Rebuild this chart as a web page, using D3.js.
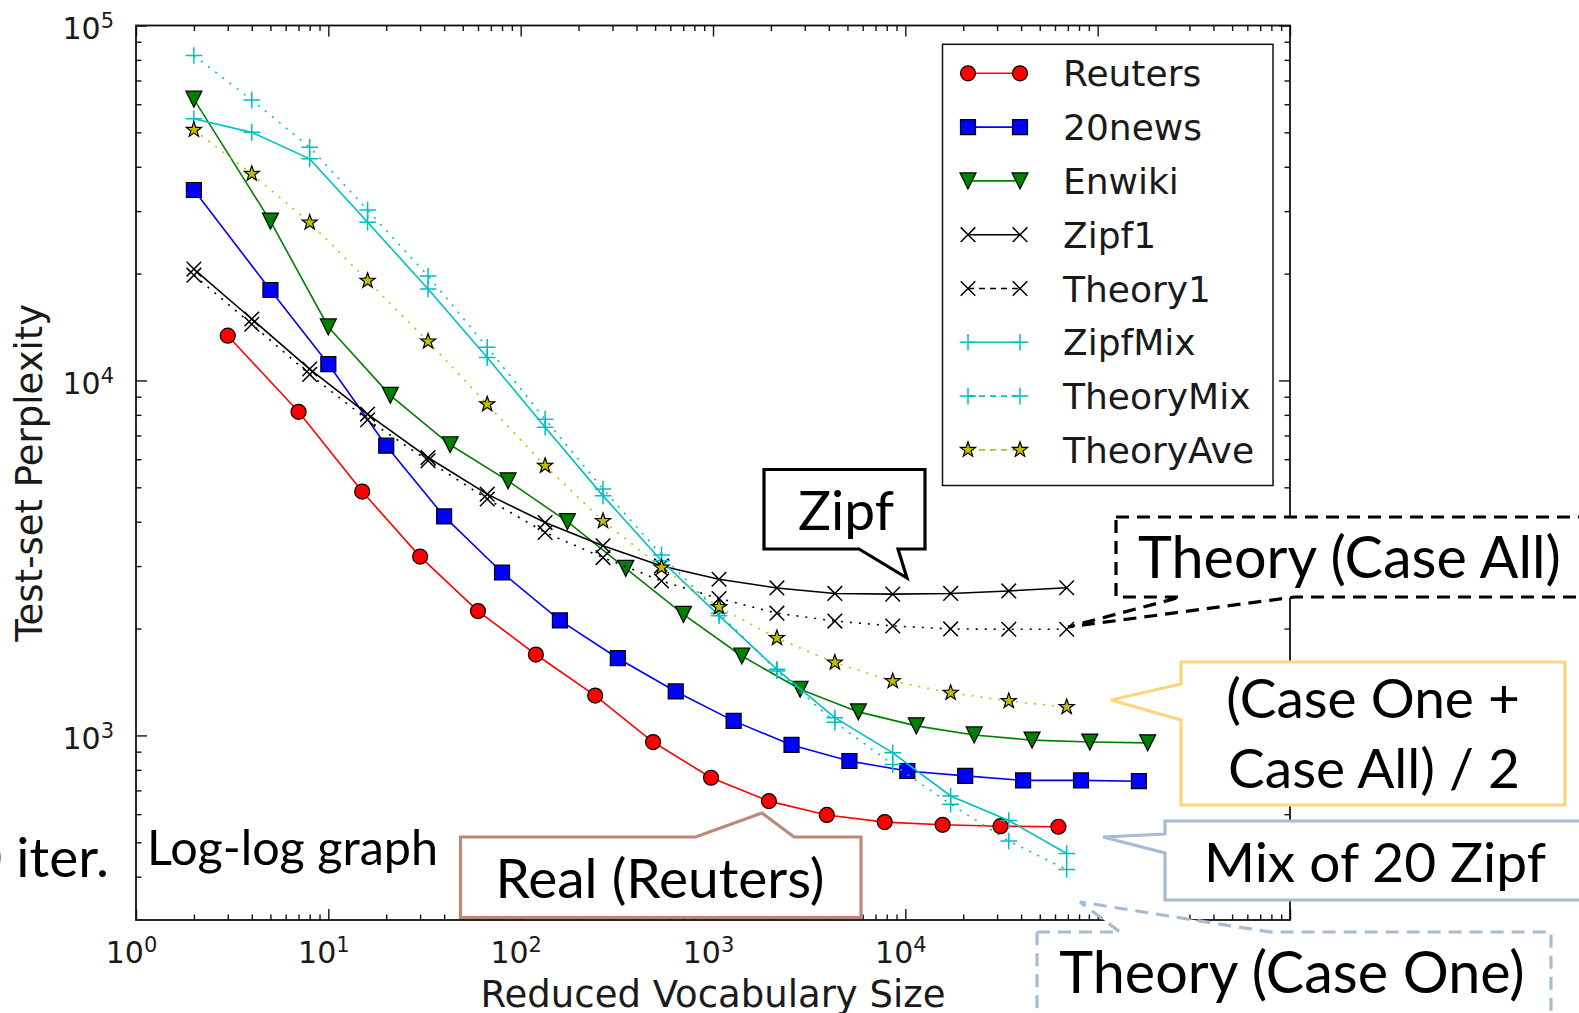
<!DOCTYPE html>
<html>

<head>
    <meta charset="utf-8">
    <title>Test-set Perplexity vs Reduced Vocabulary Size</title>
    <script src="https://d3js.org/d3.v7.min.js"></script>
    <style>
        body {
            margin: 0;
            background: #fff;
        }

        .tick-label {
            font-family: "DejaVu Sans", sans-serif;
            font-size: 30px;
            fill: #1a1a1a;
        }

        .axis-label {
            font-family: "DejaVu Sans", sans-serif;
            font-size: 37px;
            fill: #1a1a1a;
        }

        .legend-text {
            font-family: "DejaVu Sans", sans-serif;
            font-size: 36px;
            fill: #1a1a1a;
        }

        .note {
            font-family: Lato, sans-serif;
            fill: #000;
        }
    </style>
</head>

<body>
    <svg width="1579" height="1013"></svg>
    <script>
        // Data (x = reduced vocabulary size, y = perplexity)
        var reutersX = [3, 7, 15, 30, 60, 120, 244, 488, 977, 1953, 3906, 7812, 15625, 31250, 62500];
        var reutersY = [13370, 8160, 4865, 3190, 2240, 1690, 1295, 958, 760, 653, 597, 570, 560, 555, 553];

        var newsX = [2, 5, 10, 20, 40, 80, 160, 320, 640, 1280, 2560, 5120, 10240, 20480, 40960, 81920, 163840];
        var newsY = [34400, 17980, 11120, 6550, 4140, 2877, 2109, 1650, 1330, 1099, 940, 847, 794, 769, 747, 747, 743];

        var enwikiX = [2, 5, 10, 21, 43, 86, 175, 352, 702, 1412, 2838, 5700, 11400, 22800, 45600, 91000, 182000];
        var enwikiY = [62000, 28100, 14150, 9080, 6590, 5215, 4000, 2955, 2193, 1674, 1349, 1165, 1064, 1003, 970, 958, 953];

        // the Zipf / theory curves share one set of sizes
        var zipfX = [2, 4, 8, 16, 33, 67, 134, 268, 540, 1075, 2150, 4300, 8600, 17200, 34500, 69000];
        var zipf1Y = [20600, 14900, 10770, 8040, 6065, 4783, 3978, 3422, 3003, 2754, 2603, 2512, 2501, 2512, 2553, 2607];
        var theory1Y = [19800, 14400, 10400, 7750, 5940, 4636, 3730, 3170, 2723, 2430, 2210, 2100, 2034, 1995, 1991, 1991];
        var zipfMixY = [54600, 50000, 42100, 27900, 18100, 11600, 7380, 4730, 3105, 2175, 1535, 1122, 893, 675, 576, 465];
        var theoryMixY = [82300, 61700, 45400, 30200, 19700, 12400, 7780, 4945, 3225, 2210, 1520, 1090, 828, 640, 504, 419];
        var theoryAveY = [50800, 38200, 27850, 19100, 12880, 8570, 5750, 4020, 2970, 2300, 1880, 1604, 1422, 1318, 1250, 1202];

        var xMajor = [1, 10, 100, 1e3, 1e4, 1e5, 1e6];
        var xLabelled = [1, 10, 100, 1e3, 1e4];   // 10^5, 10^6 sit under the slide box
        var yMajor = [1e3, 1e4, 1e5];

        var series = [
            { name: "Reuters", xs: reutersX, ys: reutersY, color: "#ff0000", dotted: false, marker: "circle", fill: "#ff0000", edge: "#000" },
            { name: "20news", xs: newsX, ys: newsY, color: "#0000ff", dotted: false, marker: "square", fill: "#0000ff", edge: "#000" },
            { name: "Enwiki", xs: enwikiX, ys: enwikiY, color: "#008000", dotted: false, marker: "triangle", fill: "#008000", edge: "#000" },
            { name: "Zipf1", xs: zipfX, ys: zipf1Y, color: "#000", dotted: false, marker: "cross", fill: "none", edge: "#000" },
            { name: "Theory1", xs: zipfX, ys: theory1Y, color: "#000", dotted: true, marker: "cross", fill: "none", edge: "#000" },
            { name: "ZipfMix", xs: zipfX, ys: zipfMixY, color: "#00bfbf", dotted: false, marker: "plus", fill: "none", edge: "#00bfbf" },
            { name: "TheoryMix", xs: zipfX, ys: theoryMixY, color: "#00bfbf", dotted: true, marker: "plus", fill: "none", edge: "#00bfbf" },
            { name: "TheoryAve", xs: zipfX, ys: theoryAveY, color: "#bfbf00", dotted: true, marker: "star", fill: "#bfbf00", edge: "#000" }
        ];

        var svg = d3.select("svg");
        svg.append("rect").attr("width", 1579).attr("height", 1013).attr("fill", "#fff");

        // plot box (note: "top" is a reserved window property, so use other names)
        var plotL = 136, plotR = 1290, plotT = 25.5, plotB = 920;

        var x = d3.scaleLog().domain([1, 1e6]).range([plotL, plotR]);
        var y = d3.scaleLog().domain([302, 1e5]).range([plotB, plotT]);

        // Minor ticks come from the log scale's own tick list
        var xMinor = x.ticks().filter(d => xMajor.indexOf(d) < 0);
        var yMinor = y.ticks().filter(d => yMajor.indexOf(d) < 0);

        function starPath (r) {
            var pts = [];
            for (var i = 0; i < 10; i++) {
                var rr = i % 2 === 0 ? r : r * 0.4;
                var a = -Math.PI / 2 + i * Math.PI / 5;
                pts.push([(rr * Math.cos(a)).toFixed(2), (rr * Math.sin(a)).toFixed(2)]);
            }
            return "M" + pts.join("L") + "Z";
        }

        var markerPaths = {
            circle: "M7.5,0A7.5,7.5 0 1,1 -7.5,0A7.5,7.5 0 1,1 7.5,0Z",
            square: "M-7.5,-7.5H7.5V7.5H-7.5Z",
            triangle: "M0,8L-8,-8H8Z",
            cross: "M-7.3,-7.3L7.3,7.3M-7.3,7.3L7.3,-7.3",
            plus: "M-8.3,0H8.3M0,-8.3V8.3",
            star: starPath(8)
        };

        function drawMarkers (g, s, pts) {
            g.selectAll("path.mk")
                .data(pts)
                .join("path")
                .attr("class", "mk")
                .attr("transform", d => `translate(${d[0]},${d[1]})`)
                .attr("d", markerPaths[s.marker])
                .attr("fill", s.fill)
                .attr("stroke", s.edge)
                .attr("stroke-width", s.marker === "plus" || s.marker === "cross" ? 1.5 : 1.2);
        }

        // Axes: ticks point inward on all four sides
        function styleAxis (g) {
            g.attr("color", "#111");
            g.select(".domain").remove();
            g.selectAll("line").attr("stroke-width", 1.4);
        }

        function powerLabel (sel) {
            sel.each(function (d) {
                var t = d3.select(this).text("").attr("class", "tick-label")
                    .attr("fill", null).attr("dy", null);
                t.append("tspan").text("10");
                t.append("tspan").attr("dy", -11).style("font-size", "21px").text(Math.round(Math.log10(d)));
            });
        }

        var axes = svg.append("g");

        axes.append("g").attr("transform", `translate(0,${plotB})`)
            .call(d3.axisBottom(x).tickValues(xMinor).tickSize(-5.5).tickFormat(""))
            .call(styleAxis);
        axes.append("g").attr("transform", `translate(0,${plotB})`)
            .call(d3.axisBottom(x).tickValues(xMajor).tickSize(-11).tickFormat(""))
            .call(styleAxis);
        axes.append("g").attr("transform", `translate(0,${plotB})`)
            .call(d3.axisBottom(x).tickValues(xLabelled).tickSize(0))
            .call(styleAxis)
            .call(g => g.selectAll("line").remove())
            .call(g => g.selectAll("text").call(powerLabel)
                .attr("x", -5).attr("y", 43).attr("text-anchor", "middle"));
        axes.append("g").attr("transform", `translate(0,${plotT})`)
            .call(d3.axisTop(x).tickValues(xMinor).tickSize(-5.5).tickFormat(""))
            .call(styleAxis);
        axes.append("g").attr("transform", `translate(0,${plotT})`)
            .call(d3.axisTop(x).tickValues(xMajor).tickSize(-11).tickFormat(""))
            .call(styleAxis);

        axes.append("g").attr("transform", `translate(${plotL},0)`)
            .call(d3.axisLeft(y).tickValues(yMinor).tickSize(-5.5).tickFormat(""))
            .call(styleAxis);
        axes.append("g").attr("transform", `translate(${plotL},0)`)
            .call(d3.axisLeft(y).tickValues(yMajor).tickSize(-11))
            .call(styleAxis)
            .call(g => g.selectAll("text").call(powerLabel)
                .attr("x", -22).attr("y", 13).attr("text-anchor", "end"));
        axes.append("g").attr("transform", `translate(${plotR},0)`)
            .call(d3.axisRight(y).tickValues(yMinor).tickSize(-5.5).tickFormat(""))
            .call(styleAxis);
        axes.append("g").attr("transform", `translate(${plotR},0)`)
            .call(d3.axisRight(y).tickValues(yMajor).tickSize(-11).tickFormat(""))
            .call(styleAxis);

        axes.append("rect")
            .attr("x", plotL).attr("y", plotT)
            .attr("width", plotR - plotL).attr("height", plotB - plotT)
            .attr("fill", "none").attr("stroke", "#111").attr("stroke-width", 1.8);

        svg.append("text").attr("class", "axis-label")
            .attr("x", (plotL + plotR) / 2).attr("y", 1007)
            .attr("text-anchor", "middle")
            .text("Reduced Vocabulary Size");

        svg.append("text").attr("class", "axis-label")
            .attr("transform", `translate(42,${(plotT + plotB) / 2}) rotate(-90)`)
            .attr("text-anchor", "middle")
            .text("Test-set Perplexity");

        // Series: line first, then its markers
        var line = d3.line();
        var plot = svg.append("g");

        series.forEach(function (s) {
            var pts = s.xs.map((v, i) => [x(v), y(s.ys[i])]);
            var g = plot.append("g");
            g.append("path")
                .attr("d", line(pts))
                .attr("fill", "none")
                .attr("stroke", s.color)
                .attr("stroke-width", 1.6)
                .attr("stroke-dasharray", s.dotted ? "2,7" : null);
            drawMarkers(g, s, pts);
        });

        // Legend
        var legend = svg.append("g");
        legend.append("rect")
            .attr("x", 942.5).attr("y", 44.3)
            .attr("width", 330.5).attr("height", 441.2)
            .attr("fill", "#fff").attr("stroke", "#111").attr("stroke-width", 1.5);

        series.forEach(function (s, i) {
            var ry = 73.3 + i * 53.8;
            var g = legend.append("g");
            g.append("line")
                .attr("x1", 968).attr("x2", 1020).attr("y1", ry).attr("y2", ry)
                .attr("stroke", s.color).attr("stroke-width", 1.6)
                .attr("stroke-dasharray", s.dotted ? "6,5" : null);
            drawMarkers(g, s, [[968, ry], [1020, ry]]);
            g.append("text").attr("class", "legend-text")
                .attr("x", 1063).attr("y", ry + 13)
                .text(s.name);
        });

        // Slide annotations laid over the figure
        var notes = svg.append("g");

        function callout (d, stroke, dash) {
            notes.append("path")
                .attr("d", d)
                .attr("fill", "#fff")
                .attr("stroke", stroke)
                .attr("stroke-width", 3.2)
                .attr("stroke-linejoin", "miter")
                .attr("stroke-dasharray", dash || null);
        }

        function note (tx, ty, anchor, str, size) {
            notes.append("text").attr("class", "note")
                .attr("x", tx).attr("y", ty)
                .attr("text-anchor", anchor)
                .style("font-size", (size || 55) + "px")
                .text(str);
        }

        callout("M764,469.5H925V549H898L907,578L859,549H764Z", "#000");
        note(846, 530, "middle", "Zipf");

        callout("M1116,517H1600V597H1295L1068,627L1181,597H1116Z", "#000", "13,8");
        note(1138, 578, "start", "Theory (Case All)", 57.5);

        callout("M1181,662H1565V805H1181V720L1111,700L1181,684Z", "#f9d77e");
        note(1373, 718, "middle", "(Case One +");
        note(1374, 788, "middle", "Case All) / 2");

        callout("M1165,821H1600V900H1165V853L1103,837L1165,834Z", "#a5bcd3");
        note(1375, 882, "middle", "Mix of 20 Zipf");

        callout("M1037,932H1120L1080,902L1270,932H1551V1040H1037Z", "#a5bcd3", "13,8");
        note(1292, 993, "middle", "Theory (Case One)", 57.5);

        callout("M460.5,837H695.5L762,813L794,837H861V917.5H460.5Z", "#b98a78");
        note(660, 898, "middle", "Real (Reuters)");

        note(147, 865, "start", "Log-log graph", 48.5);
        note(109, 877, "end", "1000 iter.", 55);
    </script>
</body>

</html>
